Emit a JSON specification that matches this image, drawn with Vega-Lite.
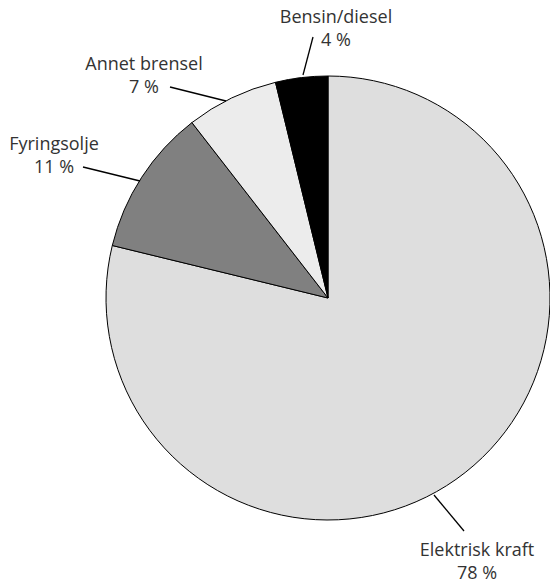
{
  "$schema": "https://vega.github.io/schema/vega-lite/v6.json",
  "width": 444,
  "height": 444,
  "autosize": {"type": "none"},
  "padding": {"left": 106, "top": 76, "right": 0, "bottom": 65},
  "background": "white",
  "config": {"view": {"stroke": null}, "font": "Open Sans"},
  "datasets": {
    "slices": [
      {"kategori": "Elektrisk kraft", "andel": 78.8, "ord": 1},
      {"kategori": "Fyringsolje", "andel": 10.7, "ord": 2},
      {"kategori": "Annet brensel", "andel": 6.7, "ord": 3},
      {"kategori": "Bensin/diesel", "andel": 3.8, "ord": 4}
    ],
    "labels": [
      {"kategori": "Bensin/diesel", "tekst": "Bensin/diesel\n4 %", "lx": 8, "ly": 280, "ax": -25, "ay": 223, "bx": -15, "by": 261},
      {"kategori": "Annet brensel", "tekst": "Annet brensel\n7 %", "lx": -184, "ly": 233, "ax": -102, "ay": 197, "bx": -158, "by": 211},
      {"kategori": "Fyringsolje", "tekst": "Fyringsolje\n11 %", "lx": -274, "ly": 153, "ax": -188, "ay": 117, "bx": -245, "by": 131},
      {"kategori": "Elektrisk kraft", "tekst": "Elektrisk kraft\n78 %", "lx": 149, "ly": -253, "ax": 106, "ay": -197, "bx": 136, "by": -233}
    ]
  },
  "layer": [
    {
      "data": {"name": "slices"},
      "mark": {"type": "arc", "outerRadius": 222, "stroke": "#000000", "strokeWidth": 1},
      "encoding": {
        "theta": {"field": "andel", "type": "quantitative", "stack": true},
        "order": {"field": "ord", "type": "quantitative"},
        "color": {
          "field": "kategori",
          "type": "nominal",
          "legend": null,
          "scale": {
            "domain": ["Elektrisk kraft", "Fyringsolje", "Annet brensel", "Bensin/diesel"],
            "range": ["#dedede", "#808080", "#ececec", "#000000"]
          }
        }
      }
    },
    {
      "data": {"name": "labels"},
      "mark": {"type": "rule", "color": "#000000", "strokeWidth": 1.3},
      "encoding": {
        "x": {"field": "ax", "type": "quantitative", "scale": {"domain": [-222, 222], "nice": false, "zero": false}, "axis": null},
        "y": {"field": "ay", "type": "quantitative", "scale": {"domain": [-222, 222], "nice": false, "zero": false}, "axis": null},
        "x2": {"field": "bx"},
        "y2": {"field": "by"}
      }
    },
    {
      "data": {"name": "labels"},
      "mark": {"type": "text", "fontSize": 18, "color": "#333333", "align": "center", "baseline": "middle", "lineBreak": "\n", "lineHeight": 23},
      "encoding": {
        "x": {"field": "lx", "type": "quantitative", "scale": {"domain": [-222, 222], "nice": false, "zero": false}, "axis": null},
        "y": {"field": "ly", "type": "quantitative", "scale": {"domain": [-222, 222], "nice": false, "zero": false}, "axis": null},
        "text": {"field": "tekst"}
      }
    }
  ]
}
